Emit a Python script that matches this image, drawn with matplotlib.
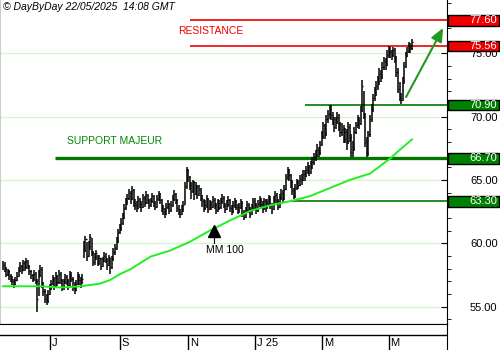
import matplotlib
matplotlib.use('Agg')
import matplotlib.pyplot as plt
import numpy as np
import pandas as pd
from matplotlib.patches import Rectangle
from matplotlib.transforms import blended_transform_factory
from matplotlib.ticker import MultipleLocator

plt.rcParams['font.family'] = ['Liberation Sans', 'DejaVu Sans']

# ---------------- data ----------------
close = [58.3, 58.0, 57.6, 57.8, 57.4, 57.2, 57.0, 56.8, 57.1, 57.4,
         57.8, 58.2, 57.9, 58.4, 58.1, 58.6, 58.2, 57.8, 57.5, 57.2,
         57.6, 57.0, 55.6, 57.5, 58.0, 56.8, 56.2, 55.6, 55.4, 56.0,
         56.5, 56.8, 57.2, 56.6, 57.4, 56.9, 57.6, 57.1, 56.5, 56.9,
         57.3, 57.0, 56.7, 57.5, 57.2, 56.6, 56.3, 56.8, 57.4, 57.1,
         56.9, 57.2, 59.5, 60.3, 59.0, 59.8, 60.5, 59.3, 58.5, 58.9,
         59.2, 58.4, 58.8, 58.2, 58.6, 59.0, 58.7, 58.3, 58.9, 58.1,
         58.8, 59.3, 59.6, 60.2, 60.9, 61.2, 61.6, 62.0, 62.8, 63.3,
         63.6, 64.0, 63.5, 64.2, 63.2, 63.0, 62.8, 63.4, 63.1, 62.9,
         63.6, 63.2, 63.8, 63.4, 63.0, 63.3, 63.7, 63.2, 62.9, 63.5,
         63.9, 63.4, 62.8, 62.5, 62.3, 62.9, 63.1, 62.6, 63.0, 63.5,
         63.9, 63.4, 62.8, 62.5, 62.3, 62.7, 63.0, 64.5, 65.8, 65.2,
         64.6, 64.1, 64.8, 63.9, 64.5, 63.8, 64.3, 63.6, 63.3, 62.8,
         63.0, 63.5, 62.7, 63.1, 62.9, 63.4, 63.0, 62.6, 63.2, 62.9,
         63.3, 63.6, 63.0, 62.7, 63.1, 63.4, 62.8, 62.5, 63.0, 63.3,
         62.9, 62.6, 62.9, 63.2, 62.4, 62.1, 62.6, 63.0, 62.7, 62.3,
         62.8, 63.3, 63.0, 62.6, 63.1, 63.4, 63.1, 62.8, 63.3, 62.9,
         63.2, 63.5, 63.0, 62.7, 63.4, 63.8, 63.3, 62.9, 63.6, 64.0,
         63.5, 64.3, 65.2, 65.8, 65.4, 64.8, 64.2, 63.7, 64.4, 64.8,
         64.6, 65.1, 65.0, 65.5, 65.3, 65.8, 66.0, 65.6, 66.2, 66.4,
         66.8, 67.0, 67.4, 67.2, 67.8, 68.5, 69.3, 68.7, 69.8, 70.2,
         70.6, 70.1, 69.8, 69.2, 69.6, 70.0, 69.4, 68.8, 69.0, 68.2,
         68.8, 68.0, 69.2, 68.4, 67.2, 67.5, 68.8, 69.3, 69.7, 69.5,
         70.5, 72.4, 70.2, 68.0, 67.1, 68.6, 69.8, 70.6, 71.5, 71.9,
         72.4, 72.8, 73.4, 73.1, 73.9, 74.4, 74.1, 74.9, 75.2, 75.1,
         74.9, 75.3, 74.6, 73.5, 72.2, 71.5, 71.3, 72.8, 74.0, 74.8,
         75.2, 75.6, 75.4, 75.9]

high = [58.6, 58.5, 58.1, 58.0, 57.9, 57.6, 57.4, 57.2, 57.3, 57.7,
        58.1, 58.5, 58.3, 58.7, 58.6, 58.8, 58.7, 58.3, 57.9, 57.6,
        57.9, 57.7, 57.2, 57.9, 58.3, 58.1, 56.9, 56.4, 56.0, 56.3,
        56.8, 57.1, 57.5, 57.3, 57.7, 57.5, 57.9, 57.7, 57.2, 57.2,
        57.6, 57.5, 57.2, 57.8, 57.7, 57.3, 56.9, 57.1, 57.7, 57.6,
        57.3, 57.6, 60.2, 60.6, 60.1, 60.2, 60.7, 60.4, 59.4, 59.2,
        59.5, 59.1, 59.1, 58.8, 58.9, 59.3, 59.2, 58.8, 59.1, 58.8,
        59.0, 59.6, 59.9, 60.5, 61.1, 61.5, 62.0, 62.4, 63.1, 63.6,
        63.9, 64.3, 64.1, 64.5, 64.3, 63.5, 63.3, 63.7, 63.6, 63.3,
        63.9, 63.7, 64.1, 63.9, 63.5, 63.6, 64.0, 63.8, 63.3, 63.8,
        64.1, 64.0, 63.5, 63.0, 62.8, 63.2, 63.4, 63.2, 63.3, 63.8,
        64.2, 64.0, 63.5, 63.0, 62.7, 63.0, 63.3, 64.8, 66.0, 65.9,
        65.3, 64.8, 65.0, 64.9, 64.8, 64.6, 64.6, 64.4, 63.8, 63.5,
        63.4, 63.8, 63.6, 63.4, 63.3, 63.7, 63.6, 63.2, 63.5, 63.4,
        63.6, 63.9, 63.7, 63.2, 63.4, 63.7, 63.5, 63.0, 63.3, 63.6,
        63.4, 63.1, 63.2, 63.5, 63.3, 62.6, 62.9, 63.3, 63.2, 62.9,
        63.1, 63.6, 63.6, 63.2, 63.4, 63.7, 63.6, 63.3, 63.6, 63.5,
        63.5, 63.8, 63.7, 63.2, 63.7, 64.1, 64.0, 63.5, 63.9, 64.3,
        64.2, 64.6, 65.5, 66.0, 65.9, 65.5, 65.0, 64.4, 64.7, 65.1,
        65.0, 65.4, 65.5, 65.8, 65.8, 66.1, 66.4, 66.2, 66.5, 66.8,
        67.1, 67.4, 67.8, 67.6, 68.1, 68.9, 69.6, 69.4, 70.1, 70.5,
        70.9, 70.9, 70.4, 70.0, 70.0, 70.4, 70.2, 69.6, 69.5, 69.3,
        69.1, 69.0, 69.6, 69.4, 68.6, 68.1, 69.2, 69.6, 70.1, 70.0,
        70.8, 72.9, 72.0, 70.3, 68.4, 68.9, 70.1, 71.0, 71.8, 72.3,
        72.8, 73.2, 73.8, 73.7, 74.3, 74.7, 74.6, 75.3, 75.56, 75.5,
        75.3, 75.5, 75.4, 74.8, 73.8, 72.7, 71.9, 73.1, 74.3, 75.1,
        75.5, 75.9, 75.8, 76.1]

low = [57.9, 57.7, 57.3, 57.4, 57.1, 56.9, 56.7, 56.5, 56.7, 57.0,
       57.3, 57.7, 57.6, 57.8, 57.8, 58.0, 58.0, 57.5, 57.2, 56.9,
       57.0, 56.8, 54.6, 55.8, 57.3, 56.5, 55.8, 55.3, 55.1, 55.3,
       55.9, 56.3, 56.7, 56.3, 56.5, 56.6, 56.8, 56.8, 56.2, 56.3,
       56.8, 56.7, 56.3, 56.6, 56.9, 56.2, 56.0, 56.2, 56.7, 56.7,
       56.5, 56.8, 58.8, 59.3, 58.6, 58.9, 59.5, 59.0, 58.2, 58.3,
       58.7, 58.2, 58.3, 57.9, 58.1, 58.5, 58.4, 57.9, 58.2, 57.6,
       58.0, 58.6, 59.1, 59.5, 60.0, 60.7, 61.0, 61.4, 61.9, 62.6,
       63.0, 63.4, 63.1, 63.4, 62.9, 62.6, 62.5, 62.7, 62.8, 62.5,
       62.8, 62.9, 63.1, 63.1, 62.7, 62.9, 63.2, 62.9, 62.6, 62.8,
       63.3, 63.1, 62.5, 62.2, 62.0, 62.2, 62.7, 62.3, 62.5, 62.9,
       63.3, 63.1, 62.5, 62.2, 62.0, 62.2, 62.5, 63.0, 64.3, 64.8,
       64.2, 63.5, 64.0, 63.4, 63.8, 63.5, 63.7, 63.3, 62.9, 62.5,
       62.6, 62.8, 62.4, 62.6, 62.6, 62.8, 62.7, 62.3, 62.5, 62.6,
       62.7, 63.1, 62.8, 62.4, 62.6, 62.9, 62.5, 62.2, 62.4, 62.8,
       62.6, 62.3, 62.4, 62.7, 62.1, 61.8, 62.0, 62.4, 62.4, 62.0,
       62.2, 62.7, 62.7, 62.3, 62.5, 62.9, 62.8, 62.4, 62.6, 62.5,
       62.7, 63.0, 62.7, 62.3, 62.6, 63.2, 63.0, 62.6, 62.8, 63.4,
       63.2, 63.4, 64.2, 65.0, 64.9, 64.4, 63.8, 63.5, 63.6, 64.2,
       64.3, 64.5, 64.6, 64.9, 64.9, 65.2, 65.5, 65.3, 65.5, 65.9,
       66.2, 66.5, 66.8, 66.8, 67.0, 67.7, 68.2, 68.2, 68.5, 69.5,
       69.8, 69.7, 69.3, 68.8, 69.0, 69.4, 68.9, 68.4, 68.5, 67.9,
       67.9, 67.4, 67.8, 68.0, 66.8, 66.8, 67.3, 68.6, 69.1, 69.0,
       69.3, 70.4, 69.8, 67.6, 66.8, 66.9, 68.4, 69.6, 70.4, 71.2,
       71.6, 72.1, 72.5, 72.7, 73.0, 73.7, 73.7, 74.0, 74.6, 74.6,
       74.5, 74.7, 74.2, 73.1, 71.9, 71.2, 71.0, 71.2, 72.6, 73.8,
       74.7, 75.0, 75.0, 75.3]

# 100-day moving average, read at selected trading days
ma_idx = [0, 24, 37, 50, 56, 62, 69, 75, 82, 95, 107, 120, 133, 146, 159,
          172, 185, 197, 210, 223, 236, 242, 249, 255, 263]
ma_val = [56.6, 56.6, 56.5, 56.6, 56.7, 56.8, 57.1, 57.55, 57.95, 58.95,
          59.4, 60.1, 61.0, 61.8, 62.55, 63.0, 63.33, 63.7, 64.35, 65.0,
          65.5, 66.05, 66.7, 67.36, 68.2]

red_levels = [77.60, 75.56]
green_levels = [70.90, 66.70, 63.30]
ytick_vals = [55, 60, 65, 70, 75]
month_starts = ['2024-07-01', '2024-09-01', '2024-11-01',
                '2025-01-01', '2025-03-01', '2025-05-01']
month_labels = ['J', 'S', 'N', 'J 25', 'M', 'M']

# ---------------- figure ----------------
W, H = 500, 350
fig = plt.figure(figsize=(W / 100, H / 100), dpi=100)
fig.patch.set_facecolor('white')


def fx(px):
    return px / W


def fy(py):
    return 1 - py / H


ax = fig.add_axes([0, fy(324), fx(447), 324 / H])
XMIN, XMAX = -1.93, 285.5
ax.set_xlim(XMIN, XMAX)
ax.set_ylim(53.62, 79.21)

dates = pd.bdate_range('2024-05-20', periods=len(close))
x = np.arange(len(close))

# grid
for v in ytick_vals:
    ax.axhline(v, color='#d6f5cc', lw=1.0, zorder=0)

# level lines
RED = '#ee0000'
DGREEN = '#007800'
ax.hlines(red_levels[0], 120.3, XMAX, color=RED, lw=1.2, zorder=2)
ax.hlines(red_levels[1], 120.3, XMAX, color=RED, lw=1.2, zorder=2)
ax.hlines(green_levels[0], 194.2, XMAX, color=DGREEN, lw=1.2, zorder=2)
ax.hlines(green_levels[1], 33.4, XMAX, color=DGREEN, lw=2.4, zorder=2)
ax.hlines(green_levels[2], 184.6, XMAX, color=DGREEN, lw=1.2, zorder=2)

# OHLC-like bars
ax.vlines(x, low, high, color='black', lw=1.1, zorder=3)
ax.hlines(close, x, x + 0.7, color='black', lw=1.0, zorder=3)

# moving average
ax.plot(ma_idx, ma_val, color='#22ee22', lw=1.4, zorder=4)

# annotations
ax.text(112.5, 76.76, 'RESISTANCE', color=RED, fontsize=7.5,
        ha='left', va='center')
ax.text(41.2, 68.07, 'SUPPORT MAJEUR', color='#008800', fontsize=7.5,
        ha='left', va='center')
ax.text(130.5, 59.48, 'MM 100', color='black', fontsize=7.5,
        ha='left', va='center')
ax.plot([135.4], [61.0], marker='^', ms=8, color='black', zorder=5)
ax.plot([135.4, 135.4], [60.0, 60.65], color='black', lw=0.8, zorder=5)

ax.annotate('', xy=(283, 77.0), xytext=(259.2, 71.55),
            arrowprops=dict(arrowstyle='-|>,head_length=0.8,head_width=0.35',
                            color='#229922', lw=1.5, shrinkA=0, shrinkB=0,
                            mutation_scale=10),
            annotation_clip=False, zorder=5)

# right axis ticks & labels
ax.yaxis.tick_right()
ax.set_yticks(ytick_vals)
ax.set_yticklabels([f'{v:.2f}' for v in ytick_vals])
ax.yaxis.set_minor_locator(MultipleLocator(1))
ax.tick_params(axis='y', which='major', direction='in', length=4,
               pad=16.5, labelsize=8, color='black')
ax.tick_params(axis='y', which='minor', direction='out', length=3,
               color='black')
ax.set_xticks([])

ax.spines['top'].set_visible(False)
ax.spines['left'].set_color('#cccccc')
ax.spines['right'].set_color('black')
ax.spines['bottom'].set_color('black')

# level boxes on the right margin
trans = blended_transform_factory(fig.transFigure, ax.transData)
for lv in red_levels:
    ax.add_patch(Rectangle((fx(448), lv - 0.41), fx(51), 0.82,
                           transform=trans, facecolor=RED,
                           edgecolor='black', lw=1, clip_on=False, zorder=6))
    ax.text(fx(497), lv, f'{lv:.2f}', transform=trans, ha='right',
            va='center', color='white', fontsize=8, zorder=7)
for lv in green_levels:
    ax.add_patch(Rectangle((fx(448), lv - 0.41), fx(51), 0.82,
                           transform=trans, facecolor='#008000',
                           edgecolor='black', lw=1, clip_on=False, zorder=6))
    ax.text(fx(497), lv, f'{lv:.2f}', transform=trans, ha='right',
            va='center', color='white', fontsize=8, zorder=7)

# bottom strip with month labels
ax2 = fig.add_axes([0, 0, fx(447), 26 / H])
ax2.set_xlim(XMIN, XMAX)
ax2.set_ylim(0, 1)
ax2.set_xticks([])
ax2.set_yticks([])
ax2.spines['left'].set_visible(False)
ax2.spines['bottom'].set_visible(False)
ax2.spines['top'].set_color('black')
ax2.spines['right'].set_color('black')
yline = 15 / 26
ax2.axhline(yline, color='black', lw=1)
for ms, lab in zip(month_starts, month_labels):
    idx = int(np.searchsorted(dates, pd.Timestamp(ms)))
    ax2.vlines(idx, 0, yline, color='black', lw=1)
    ax2.text(idx + 1.2, yline / 2, lab, ha='left', va='center', fontsize=8)

# header
fig.text(fx(3), fy(7), '\u00a9 DayByDay 22/05/2025  14:08 GMT',
         style='italic', fontsize=7.5, va='center', ha='left')

fig.savefig('out.png', dpi=100)
